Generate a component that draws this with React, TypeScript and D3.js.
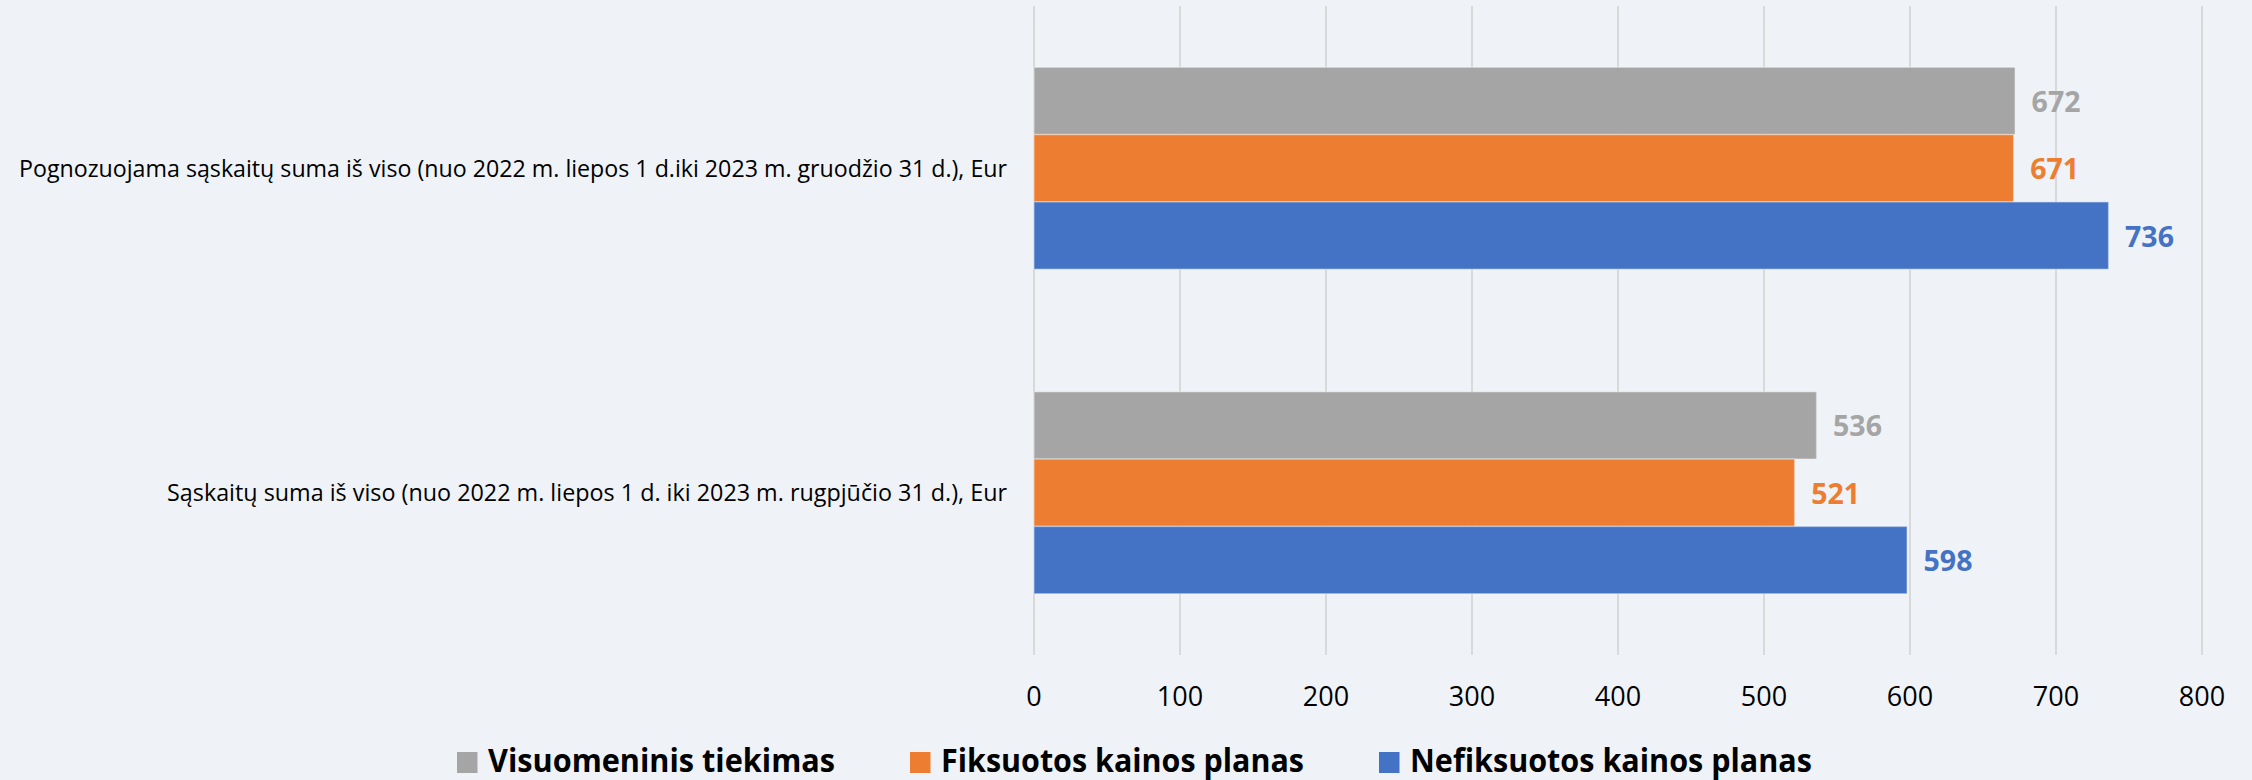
import React from "react";
import * as d3 from "d3";

const categories = [
  "Pognozuojama sąskaitų suma iš viso (nuo 2022 m. liepos 1 d.iki 2023 m. gruodžio 31 d.), Eur",
  "Sąskaitų suma iš viso (nuo 2022 m. liepos 1 d. iki 2023 m. rugpjūčio 31 d.), Eur",
];
const seriesNames = ["Visuomeninis tiekimas", "Fiksuotos kainos planas", "Nefiksuotos kainos planas"];
const visuomeninis = [672, 536];
const fiksuotos = [671, 521];
const nefiksuotos = [736, 598];
const xTicks = [0, 100, 200, 300, 400, 500, 600, 700, 800];

const seriesValues = [visuomeninis, fiksuotos, nefiksuotos];
const colors = ["#a5a5a5", "#ed7d31", "#4472c4"];
const catLabelWidths = [988, 840];
const legendX = [457, 910, 1379];
const legendWidths = [347, 363, 402];

const W = 2252;
const H = 780;
const plotTop = 6;
const plotBottom = 655;
const FONT = "'Open Sans', 'DejaVu Sans', sans-serif";

export default function App() {
  const x = d3.scaleLinear().domain([0, 800]).range([1034, 2202]);
  const y = d3.scaleBand<number>().domain(categories.map((_, i) => i)).range([plotTop, plotBottom]).padding(0);
  const bw = y.bandwidth();
  const groupFrac = 0.6225;
  const inner = d3
    .scaleBand<number>()
    .domain(seriesNames.map((_, i) => i))
    .range([(bw * (1 - groupFrac)) / 2, (bw * (1 + groupFrac)) / 2])
    .padding(0);
  const bh = inner.bandwidth();

  return (
    <svg
      width={W}
      height={H}
      style={{ position: "absolute", left: 0, top: 0, display: "block" }}
      xmlns="http://www.w3.org/2000/svg"
    >
      <rect x={0} y={0} width={W} height={H} fill="#eff3f7" />
      {xTicks.map((t) => (
        <line key={"g" + t} x1={x(t)} x2={x(t)} y1={plotTop} y2={plotBottom} stroke="#d9d9d9" strokeWidth={2} />
      ))}
      {categories.map((c, ci) =>
        seriesValues.map((vals, si) => {
          const y0 = (y(ci) as number) + (inner(si) as number);
          return (
            <g key={c + si}>
              <rect
                x={x(0)}
                y={y0}
                width={x(vals[ci]) - x(0)}
                height={bh}
                fill={colors[si]}
                stroke="#ffffff"
                strokeOpacity={0.35}
                strokeWidth={1.5}
              />
              <text
                x={x(vals[ci]) + 16.5}
                y={y0 + bh / 2 + 11}
                fill={colors[si]}
                fontFamily={FONT}
                fontWeight="bold"
                fontSize={28.5}
              >
                {vals[ci]}
              </text>
            </g>
          );
        })
      )}
      {categories.map((c, ci) => (
        <text
          key={"c" + ci}
          x={1007}
          y={(y(ci) as number) + bw / 2 + 8.5}
          textAnchor="end"
          fontFamily={FONT}
          fontSize={24}
          fill="#000000"
          textLength={catLabelWidths[ci]}
          lengthAdjust="spacingAndGlyphs"
        >
          {c}
        </text>
      ))}
      {xTicks.map((t) => (
        <text key={"t" + t} x={x(t)} y={706} textAnchor="middle" fontFamily={FONT} fontSize={27} fill="#000000">
          {t}
        </text>
      ))}
      {seriesNames.map((s, si) => (
        <g key={"l" + si}>
          <rect x={legendX[si]} y={752} width={20.5} height={21} fill={colors[si]} />
          <text
            x={legendX[si] + 31}
            y={772.3}
            fontFamily={FONT}
            fontWeight="bold"
            fontSize={32}
            fill="#000000"
            textLength={legendWidths[si]}
            lengthAdjust="spacingAndGlyphs"
          >
            {s}
          </text>
        </g>
      ))}
    </svg>
  );
}
